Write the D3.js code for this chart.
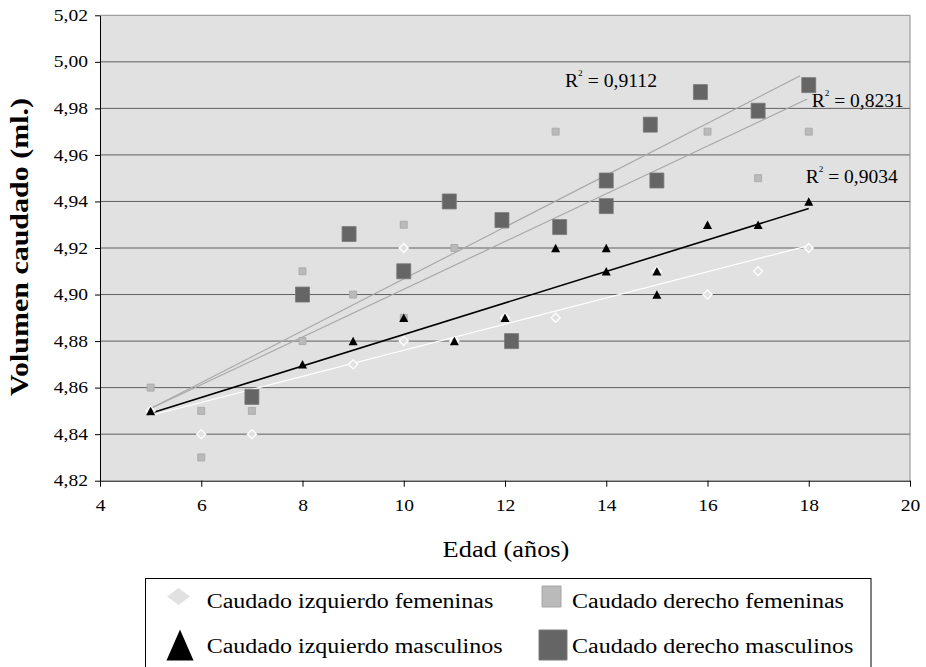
<!DOCTYPE html>
<html>
<head>
<meta charset="utf-8">
<script src="https://cdn.jsdelivr.net/npm/d3@7"></script>
<style>
  body { margin: 0; background: #fff; }
  svg { display: block; font-family: "Liberation Serif", "Times New Roman", serif; }
</style>
</head>
<body>
<svg id="chart" width="926" height="667"></svg>
<script>
// Caudado izquierdo femeninas (diamonds) - some sit under the triangles
const izqFemAge = [5, 6, 7, 9, 10, 10, 11, 12, 13, 15, 16, 17, 18];
const izqFemVol = [4.85, 4.84, 4.84, 4.87, 4.92, 4.88, 4.88, 4.89, 4.89, 4.91, 4.90, 4.91, 4.92];

// Caudado derecho femeninas (small light squares)
const derFemAge = [5, 6, 6, 7, 8, 8, 9, 10, 10, 11, 12, 13, 16, 17, 18];
const derFemVol = [4.86, 4.85, 4.83, 4.85, 4.91, 4.88, 4.90, 4.93, 4.89, 4.92, 4.93, 4.97, 4.97, 4.95, 4.97];

// Caudado izquierdo masculinos (triangles)
const izqMasAge = [5, 8, 9, 10, 11, 12, 13, 14, 14, 15, 15, 16, 17, 18];
const izqMasVol = [4.85, 4.87, 4.88, 4.89, 4.88, 4.89, 4.92, 4.92, 4.91, 4.91, 4.90, 4.93, 4.93, 4.94];

// Caudado derecho masculinos (big dark squares)
const derMasAge = [7, 8, 8.92, 10, 10.9, 11.94, 12.13, 13.08, 14, 14, 14.87, 15, 15.86, 17, 18];
const derMasVol = [4.856, 4.90, 4.926, 4.91, 4.94, 4.932, 4.88, 4.929, 4.949, 4.938, 4.973, 4.949, 4.987, 4.979, 4.990];

// trend line end points [age, volume]
const trendIzqFem = [[5, 4.848], [18, 4.921]];
const trendIzqMas = [[5, 4.849], [18, 4.937]];
const trendDerFem = [[5, 4.851], [17.97, 4.984]];
const trendDerMas = [[5, 4.851], [17.83, 4.994]];

const r2Values = ["0,9112", "0,8231", "0,9034"];
const xTicks = [4, 6, 8, 10, 12, 14, 16, 18, 20];
const yTicks = [4.82, 4.84, 4.86, 4.88, 4.90, 4.92, 4.94, 4.96, 4.98, 5.00, 5.02];
const legendLabels = ["Caudado izquierdo femeninas", "Caudado derecho femeninas",
                      "Caudado izquierdo masculinos", "Caudado derecho masculinos"];

const zip = (a, b) => a.map((v, i) => ({ x: v, y: b[i] }));

const svg = d3.select("#chart");
const plot = { left: 100, right: 910, top: 15.3, bottom: 480.7 };

const x = d3.scaleLinear().domain([4, 20]).range([plot.left, plot.right]);
const y = d3.scaleLinear().domain([4.82, 5.02]).range([plot.bottom, plot.top]);

// stretch text horizontally (the original picture is a bit wide)
function stretch(sel, k) {
  sel.each(function () {
    const len = this.getComputedTextLength();
    d3.select(this).attr("textLength", len * k).attr("lengthAdjust", "spacingAndGlyphs");
  });
}

// plot background
svg.append("rect")
  .attr("x", plot.left).attr("y", plot.top)
  .attr("width", plot.right - plot.left).attr("height", plot.bottom - plot.top)
  .attr("fill", "#e1e1e1");

// grid lines
svg.append("g").selectAll("line")
  .data(yTicks.slice(1, -1))
  .join("line")
  .attr("x1", plot.left).attr("x2", plot.right)
  .attr("y1", d => y(d)).attr("y2", d => y(d))
  .attr("stroke", "#606060").attr("stroke-width", 1);

// top and right border
svg.append("path")
  .attr("d", `M${plot.left},${y(5.02)}H${plot.right}V${plot.bottom}`)
  .attr("fill", "none").attr("stroke", "#8c8c8c");

// axes
const fmt = d => d3.format(".2f")(d).replace(".", ",");
const yAxis = svg.append("g")
  .attr("transform", `translate(${plot.left},0)`)
  .call(d3.axisLeft(y).tickValues(yTicks).tickSize(5).tickSizeOuter(0).tickPadding(7).tickFormat(fmt));
const xAxis = svg.append("g")
  .attr("transform", `translate(0,${plot.bottom})`)
  .call(d3.axisBottom(x).tickValues(xTicks).tickSize(6).tickSizeOuter(0).tickPadding(13));

[yAxis, xAxis].forEach(a => {
  a.selectAll("text").attr("font-family", "Liberation Serif").attr("font-size", 16).attr("fill", "#000");
  a.selectAll("line, path").attr("stroke", "#000");
});
stretch(yAxis.selectAll("text"), 1.22);
stretch(xAxis.selectAll("text"), 1.22);

// trend lines
const line = d3.line().x(d => x(d[0])).y(d => y(d[1]));
const trends = [
  { pts: trendDerFem, color: "#a8a8a8", w: 1.2 },
  { pts: trendDerMas, color: "#a8a8a8", w: 1.2 },
  { pts: trendIzqFem, color: "#ffffff", w: 1.2 },
  { pts: trendIzqMas, color: "#000000", w: 1.6 }
];
svg.append("g").selectAll("path")
  .data(trends)
  .join("path")
  .attr("d", d => line(d.pts))
  .attr("fill", "none")
  .attr("stroke", d => d.color)
  .attr("stroke-width", d => d.w);

// marker shapes
const diamond = (w, h) => `M0,${-h / 2}L${w / 2},0L0,${h / 2}L${-w / 2},0Z`;
const square = (w, h) => `M${-w / 2},${-h / 2}h${w}v${h}h${-w}Z`;
const triangle = (w, h) => `M0,${-h / 2}L${w / 2},${h / 2}L${-w / 2},${h / 2}Z`;

const markers = [
  { data: zip(izqFemAge, izqFemVol), d: diamond(9, 9), fill: "#e1e1e1", stroke: "#ffffff", sw: 1.3 },
  { data: zip(derFemAge, derFemVol), d: square(7, 7), fill: "#bababa", stroke: "#a6a6a6", sw: 0.8 },
  { data: zip(izqMasAge, izqMasVol), d: triangle(9, 8.5), fill: "#000", stroke: "none", sw: 0 },
  { data: zip(derMasAge, derMasVol), d: square(14, 15), fill: "#656565", stroke: "#7a7a7a", sw: 0.8 }
];
markers.forEach(m => {
  svg.append("g").selectAll("path")
    .data(m.data)
    .join("path")
    .attr("transform", d => `translate(${x(d.x)},${y(d.y)})`)
    .attr("d", m.d)
    .attr("fill", m.fill)
    .attr("stroke", m.stroke)
    .attr("stroke-width", m.sw);
});

// R² labels
const r2Pos = [[565, 87.3], [811.7, 106.7], [805.7, 182.7]];
r2Values.forEach((v, i) => {
  const t = svg.append("text")
    .attr("x", r2Pos[i][0]).attr("y", r2Pos[i][1])
    .attr("font-size", 19).attr("fill", "#000")
    .attr("textLength", 92).attr("lengthAdjust", "spacingAndGlyphs");
  t.append("tspan").text("R");
  t.append("tspan").attr("font-size", 9).attr("dy", -11).text("2");
  t.append("tspan").attr("dy", 11).text(" = " + v);
});

// axis titles
const xt = svg.append("text")
  .attr("x", 506).attr("y", 557)
  .attr("text-anchor", "middle")
  .attr("font-size", 24)
  .text("Edad (años)");
stretch(xt, 1.1);

svg.append("text")
  .attr("transform", "translate(28,247) rotate(-90)")
  .attr("text-anchor", "middle")
  .attr("font-size", 26)
  .attr("font-weight", "bold")
  .attr("textLength", 298).attr("lengthAdjust", "spacingAndGlyphs")
  .text("Volumen caudado (ml.)");

// legend
const legend = svg.append("g");
legend.append("rect")
  .attr("x", 145.5).attr("y", 578.5)
  .attr("width", 725.5).attr("height", 120)
  .attr("fill", "#fff").attr("stroke", "#000");

const legendItems = [
  { label: legendLabels[0], mx: 178.5, my: 596.5, tx: 206.7, ty: 608, d: diamond(23, 17), fill: "#e1e1e1", stroke: "none" },
  { label: legendLabels[1], mx: 551.5, my: 596.5, tx: 572, ty: 608, d: square(19, 21), fill: "#bababa", stroke: "#a6a6a6" },
  { label: legendLabels[2], mx: 180, my: 645, tx: 206.7, ty: 653, d: triangle(27, 31), fill: "#000", stroke: "none" },
  { label: legendLabels[3], mx: 553, my: 645, tx: 572, ty: 653, d: square(28, 30), fill: "#656565", stroke: "#7a7a7a" }
];
legendItems.forEach(it => {
  legend.append("path")
    .attr("transform", `translate(${it.mx},${it.my})`)
    .attr("d", it.d).attr("fill", it.fill).attr("stroke", it.stroke);
  const t = legend.append("text")
    .attr("x", it.tx).attr("y", it.ty)
    .attr("font-size", 20)
    .text(it.label);
  stretch(t, 1.2);
});
</script>
</body>
</html>
